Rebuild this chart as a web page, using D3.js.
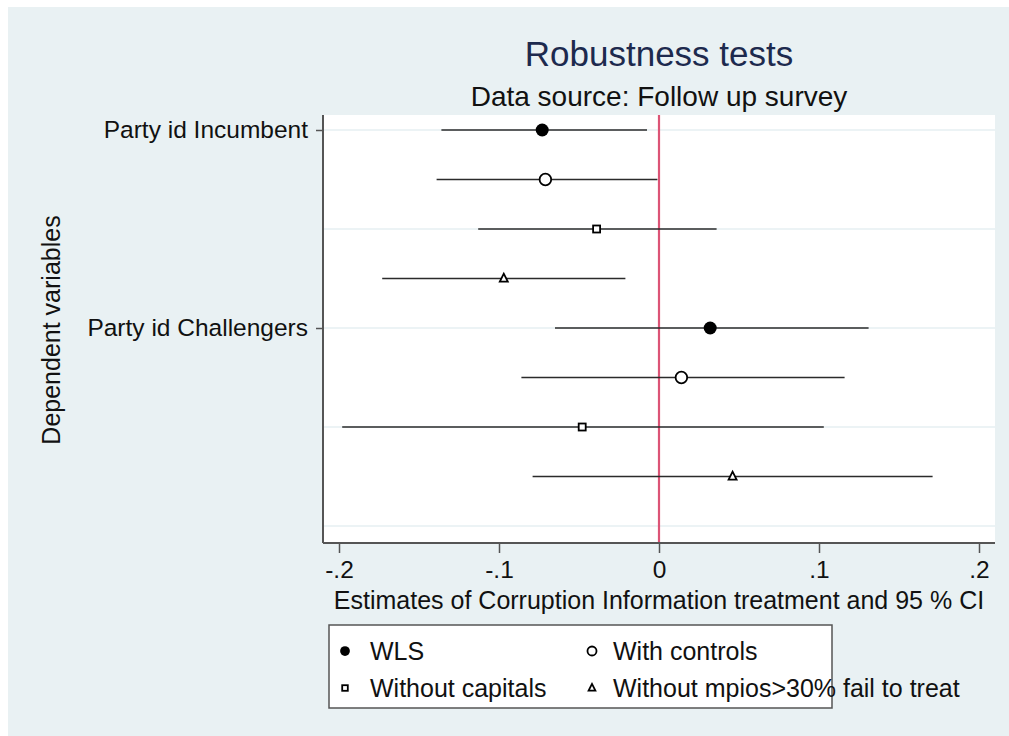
<!DOCTYPE html>
<html>
<head>
<meta charset="utf-8">
<script src="https://cdn.jsdelivr.net/npm/d3@7"></script>
<style>
  body { margin: 0; background: #fff; }
  text { font-family: "Liberation Sans", Arial, sans-serif; }
</style>
</head>
<body>
<div id="chart"></div>
<script>
// estimates and 95% CI, one row per model (top to bottom)
const rowLabels = ["Party id Incumbent", "", "", "", "Party id Challengers", "", "", ""];
const models = ["WLS", "With controls", "Without capitals", "Without mpios>30% fail to treat"];
const rowModel = [0, 1, 2, 3, 0, 1, 2, 3];
const estimates = [-0.073, -0.071, -0.039, -0.097, 0.032, 0.014, -0.048, 0.046];
const ciLow = [-0.136, -0.139, -0.113, -0.173, -0.065, -0.086, -0.198, -0.079];
const ciHigh = [-0.0075, -0.001, 0.036, -0.021, 0.131, 0.116, 0.103, 0.171];
const xTicks = [-0.2, -0.1, 0, 0.1, 0.2];
const gridRows = [0, 2, 4, 6, 8];

const width = 1009;
const height = 736;

const plot = { left: 323, right: 995, top: 115, bottom: 543 };

const svg = d3.select("#chart")
  .append("svg")
  .attr("width", width)
  .attr("height", height);

// background
svg.append("rect")
  .attr("x", 8).attr("y", 7)
  .attr("width", width - 8).attr("height", height - 7)
  .attr("fill", "#e9f1f3");

svg.append("rect")
  .attr("x", plot.left).attr("y", plot.top)
  .attr("width", plot.right - plot.left).attr("height", plot.bottom - plot.top)
  .attr("fill", "#fff");

const xScale = d3.scaleLinear()
  .domain([-0.21, 0.21])
  .range([plot.left, plot.right]);

const yScale = d3.scaleLinear()
  .domain([-0.303, 8.343])
  .range([plot.top, plot.bottom]);

// gridlines
svg.append("g")
  .selectAll("line")
  .data(gridRows)
  .enter()
  .append("line")
  .attr("x1", plot.left).attr("x2", plot.right)
  .attr("y1", d => yScale(d)).attr("y2", d => yScale(d))
  .attr("stroke", "#e6eff2")
  .attr("stroke-width", 1.5);

// zero line
svg.append("line")
  .attr("x1", xScale(0)).attr("x2", xScale(0))
  .attr("y1", plot.top).attr("y2", plot.bottom)
  .attr("stroke", "#dc5476")
  .attr("stroke-width", 2.2);

// CI lines
svg.append("g")
  .selectAll("line")
  .data(estimates)
  .enter()
  .append("line")
  .attr("x1", (d, i) => xScale(ciLow[i]))
  .attr("x2", (d, i) => xScale(ciHigh[i]))
  .attr("y1", (d, i) => yScale(i))
  .attr("y2", (d, i) => yScale(i))
  .attr("stroke", "#2b2b2b")
  .attr("stroke-width", 1.5);

function drawMarker(g, type, x, y, scale) {
  if (type === 0) {
    g.append("circle").attr("cx", x).attr("cy", y).attr("r", 6.5 * scale).attr("fill", "#000");
  } else if (type === 1) {
    g.append("circle").attr("cx", x).attr("cy", y).attr("r", 5.8 * scale)
      .attr("fill", "#fff").attr("stroke", "#000").attr("stroke-width", 1.8);
  } else if (type === 2) {
    const s = 7 * scale;
    g.append("rect").attr("x", x - s / 2).attr("y", y - s / 2).attr("width", s).attr("height", s)
      .attr("fill", "#fff").attr("stroke", "#000").attr("stroke-width", 1.8);
  } else {
    const s = 8 * scale;
    const pts = [[x, y - s * 0.6], [x - s / 2, y + s * 0.4], [x + s / 2, y + s * 0.4]];
    g.append("polygon").attr("points", pts.map(p => p.join(",")).join(" "))
      .attr("fill", "#fff").attr("stroke", "#000").attr("stroke-width", 1.8);
  }
}

const markG = svg.append("g");
estimates.forEach((d, i) => {
  drawMarker(markG, rowModel[i], xScale(d), yScale(i), 1);
});

// axes
const xAxis = d3.axisBottom(xScale)
  .tickValues(xTicks)
  .tickSize(10)
  .tickPadding(8)
  .tickFormat(d => d === 0 ? "0" : d3.format(".1f")(d).replace("\u2212", "-").replace("0.", "."));

const xAxisG = svg.append("g")
  .attr("transform", `translate(0,${plot.bottom})`)
  .call(xAxis);
xAxisG.select(".domain").attr("d", `M${plot.left},0H${plot.right}`);

const yAxis = d3.axisLeft(yScale)
  .tickValues([0, 4])
  .tickSize(7)
  .tickPadding(8)
  .tickFormat(d => rowLabels[d]);

const yAxisG = svg.append("g")
  .attr("transform", `translate(${plot.left},0)`)
  .call(yAxis);
yAxisG.select(".domain").attr("d", `M0,${plot.top}V${plot.bottom}`);

[xAxisG, yAxisG].forEach(g => {
  g.select(".domain").attr("stroke", "#555").attr("stroke-width", 2);
  g.selectAll(".tick line").attr("stroke", "#555").attr("stroke-width", 1.5);
  g.selectAll(".tick text")
    .attr("fill", "#111")
    .style("font-size", "24.5px")
    .style("font-family", "'Liberation Sans', Arial, sans-serif");
});

// titles
const midX = (plot.left + plot.right) / 2;
svg.append("text")
  .attr("x", midX).attr("y", 66)
  .attr("text-anchor", "middle")
  .attr("fill", "#1d2a4e")
  .style("font-size", "35px")
  .text("Robustness tests");

svg.append("text")
  .attr("x", midX).attr("y", 106)
  .attr("text-anchor", "middle")
  .attr("fill", "#111")
  .style("font-size", "28px")
  .text("Data source: Follow up survey");

svg.append("text")
  .attr("x", midX).attr("y", 609)
  .attr("text-anchor", "middle")
  .attr("fill", "#111")
  .style("font-size", "25px")
  .text("Estimates of Corruption Information treatment and 95 % CI");

svg.append("text")
  .attr("transform", `translate(60,330) rotate(-90)`)
  .attr("text-anchor", "middle")
  .attr("fill", "#111")
  .style("font-size", "25px")
  .text("Dependent variables");

// legend
const legend = svg.append("g");
legend.append("rect")
  .attr("x", 329).attr("y", 625)
  .attr("width", 503).attr("height", 83)
  .attr("fill", "#fff")
  .attr("stroke", "#555")
  .attr("stroke-width", 1.5);

const legendPos = [[345, 651], [592, 651], [345, 688], [592, 688]];
const legendScale = [0.75, 0.78, 0.8, 0.85];
models.forEach((m, i) => {
  const [lx, ly] = legendPos[i];
  drawMarker(legend, i, lx, ly, legendScale[i]);
  legend.append("text")
    .attr("x", lx + (i % 2 === 0 ? 25 : 21))
    .attr("y", ly + 9)
    .attr("fill", "#111")
    .style("font-size", "25px")
    .text(m);
});
</script>
</body>
</html>
